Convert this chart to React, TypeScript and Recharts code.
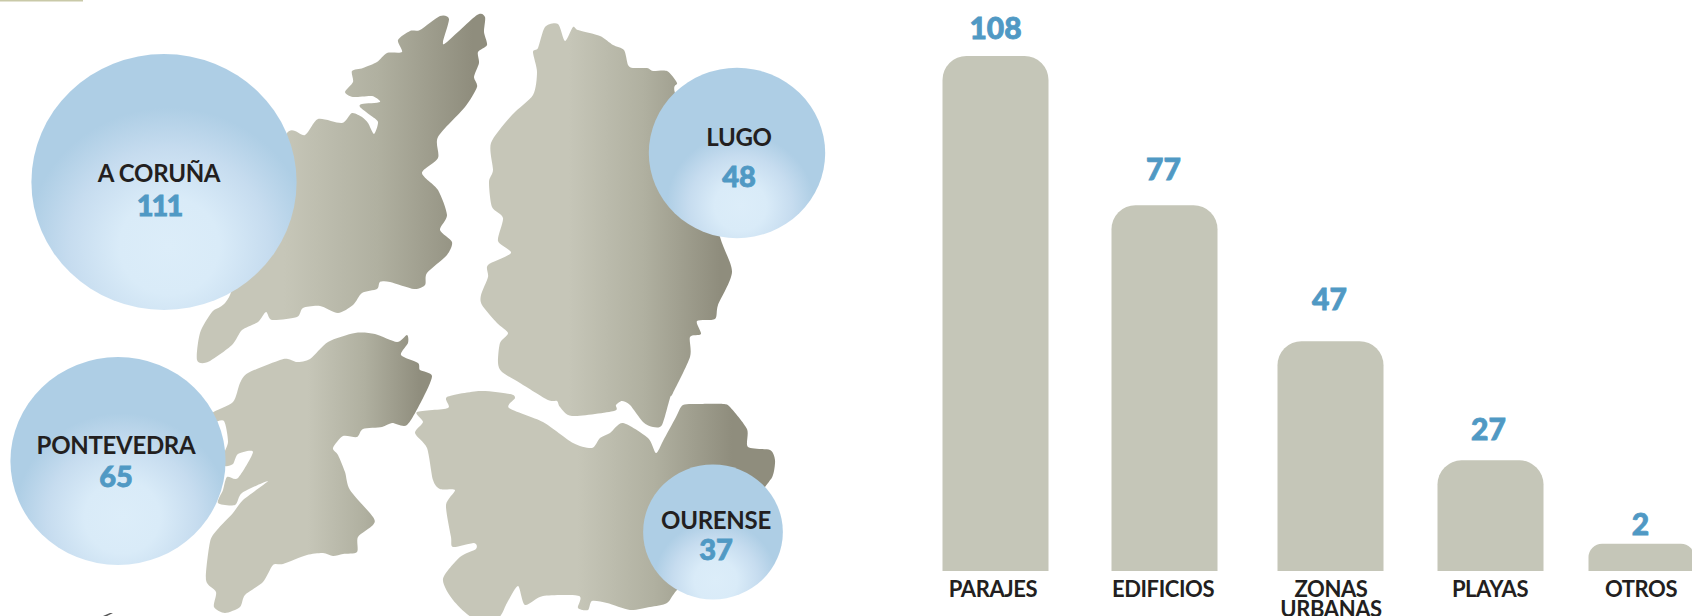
import {
  BarChart,
  Bar,
  XAxis,
  YAxis,
  ZAxis,
  ScatterChart,
  Scatter,
  Rectangle,
} from "recharts";

// provinces (bubbles)
const provinces = ["A CORUÑA", "PONTEVEDRA", "LUGO", "OURENSE"];
const provinceValues = [111, 65, 48, 37];
const provinceX = [164, 118, 737, 713];
const provinceY = [182, 461, 153, 532];

// sites (bars)
const siteLabels = ["PARAJES", "EDIFICIOS", "ZONAS\nURBANAS", "PLAYAS", "OTROS"];
const siteValues = [108, 77, 47, 27, 2];
// the printed bars are not to scale, this is the height they are drawn at
const siteDrawn = [108, 76.7, 48.2, 23.2, 5.7];
const siteSlots = [95, 264, 430, 590, 741];

const FONT = "Lato, sans-serif";
const INK = "#231f20";
const BLUE = "#5099c4";
const BAR = "#c5c6b8";

// layout bits
const bubbleFix = [1, 1.093, 1.072, 1];
const nameShift = [[-5, -10], [-2, -17], [2, -17], [3, -13]];
const valueShift = [[-5, 22], [-2, 14], [2, 22], [3, 16]];
const valueSpacing = [-2, 0, 0, 0];
const bubbleGlow = [
  { cy: 0.75, r: 0.54 },
  { cy: 0.77, r: 0.5 },
  { cy: 0.81, r: 0.42 },
  { cy: 0.86, r: 0.44 },
];
const labelGap = [29, 37, 43, 32, 21];
const labelNudge = [0, -1, -1, -2, -1];
const tickNudge = [-2, -1, 1, 0, 0];

const bubbleData = provinces.map((name, i) => ({
  name,
  x: provinceX[i],
  y: provinceY[i],
  z: provinceValues[i],
}));

const barData = siteLabels.map((label, i) => ({
  slot: siteSlots[i],
  label,
  value: siteValues[i],
  drawn: siteDrawn[i],
}));

// map outlines, traced by hand
const mapCoruna = [
  [287, 133], [305, 135], [318, 119], [342, 123], [352, 113], [362, 117], [368, 123], [374, 134],
  [378, 122], [370, 115], [360, 107], [362, 104], [380, 102], [372, 96], [353, 97], [345, 92],
  [353, 82], [352, 71], [363, 68], [377, 62], [387, 53], [402, 52], [398, 40], [410, 31],
  [420, 30], [440, 16], [449, 19], [443, 42], [447, 42], [477, 15], [485, 17], [484, 32],
  [487, 45], [478, 52], [479, 63], [474, 77], [477, 87], [465, 107], [438, 137], [438, 158],
  [422, 173], [438, 190], [447, 215], [440, 230], [452, 242], [447, 255], [427, 273], [425, 285],
  [414, 289], [390, 282], [380, 282], [377, 289], [362, 293], [353, 305], [338, 313], [320, 306],
  [303, 308], [297, 317], [272, 320], [266, 312], [258, 322], [242, 330], [232, 345], [208, 362],
  [197, 360], [200, 333], [212, 312], [230, 295], [262, 200],
];
const mapLugo = [
  [533, 52], [538, 48], [545, 27], [558, 24], [565, 41], [573, 27], [578, 30], [600, 36],
  [613, 45], [624, 50], [628, 65], [633, 68], [647, 68], [653, 71], [667, 71], [677, 83],
  [675, 93], [700, 160], [720, 237], [732, 272], [718, 305], [715, 319], [697, 321], [701, 334],
  [690, 337], [690, 357], [673, 393], [670, 398], [662, 425], [653, 427], [643, 422], [630, 405],
  [622, 401], [616, 405], [614, 411], [572, 416], [560, 407], [557, 401], [548, 400], [520, 383],
  [502, 372], [498, 363], [500, 343], [508, 333], [497, 323], [482, 305], [481, 295], [488, 277],
  [488, 265], [511, 253], [498, 241], [503, 218], [492, 207], [489, 182], [493, 170], [491, 143],
  [512, 115], [533, 95], [537, 72],
];
const mapPontevedra = [
  [212, 413], [233, 402], [240, 383], [248, 373], [280, 360], [288, 359], [297, 362], [310, 359],
  [328, 342], [355, 333], [375, 334], [397, 342], [407, 335], [408, 343], [401, 355], [418, 363],
  [420, 370], [432, 376], [422, 400], [407, 425], [392, 423], [382, 427], [363, 429], [357, 437],
  [343, 436], [333, 448], [338, 455], [345, 472], [350, 490], [373, 517], [373, 525], [358, 537],
  [357, 552], [343, 554], [333, 556], [323, 553], [307, 555], [283, 564], [273, 565], [263, 582],
  [245, 595], [240, 607], [225, 613], [214, 607], [216, 592], [206, 580], [210, 542], [217, 530],
  [233, 513], [243, 500], [268, 481], [242, 493], [235, 505], [218, 503], [223, 490], [227, 477],
  [238, 478], [253, 452], [238, 454], [233, 464], [225, 466], [223, 456], [228, 442], [224, 421],
  [213, 422],
];
const mapOurense = [
  [417, 412], [448, 408], [447, 397], [480, 391], [510, 394], [515, 398], [509, 408], [543, 422],
  [573, 443], [592, 448], [600, 438], [610, 433], [623, 423], [648, 438], [656, 453], [663, 441],
  [676, 417], [683, 405], [700, 404], [723, 404], [730, 407], [747, 429], [748, 447], [770, 450],
  [775, 460], [773, 475], [765, 487],
  [710, 557], [677, 590], [667, 603], [650, 607], [630, 610], [607, 603], [592, 601], [588, 610],
  [578, 608], [579, 596], [543, 596], [525, 605], [518, 586], [507, 603], [498, 618], [473, 618],
  [453, 600], [443, 579], [460, 557], [476, 549], [474, 543], [453, 547], [451, 537], [446, 505],
  [455, 490], [440, 489], [433, 480], [427, 448], [415, 433], [423, 422],
];

// closed catmull-rom so the coast isn't all straight segments
function smooth(pts: number[][]) {
  const n = pts.length;
  let d = `M${pts[0][0]},${pts[0][1]}`;
  for (let i = 0; i < n; i++) {
    const p0 = pts[(i - 1 + n) % n];
    const p1 = pts[i];
    const p2 = pts[(i + 1) % n];
    const p3 = pts[(i + 2) % n];
    const k = 8;
    d += ` C${p1[0] + (p2[0] - p0[0]) / k},${p1[1] + (p2[1] - p0[1]) / k} ${p2[0] - (p3[0] - p1[0]) / k},${p2[1] - (p3[1] - p1[1]) / k} ${p2[0]},${p2[1]}`;
  }
  return d + "Z";
}

function MapGradient({ id, from, to }: { id: string; from: number; to: number }) {
  return (
    <linearGradient id={id} x1="0" y1="0" x2="1" y2="0">
      <stop offset={from} stopColor="#c6c6b8" />
      <stop offset={(from + to) / 2} stopColor="#b0b0a0" />
      <stop offset={to} stopColor="#8f8d7d" />
    </linearGradient>
  );
}

function GaliciaMap() {
  return (
    <svg width={1692} height={616} style={{ position: "absolute", left: 0, top: 0 }}>
      <defs>
        <MapGradient id="mapCoruna" from={0.3} to={0.95} />
        <MapGradient id="mapLugo" from={0.35} to={0.95} />
        <MapGradient id="mapPontevedra" from={0.45} to={0.95} />
        <MapGradient id="mapOurense" from={0.45} to={0.88} />
      </defs>
      <rect x={0} y={0} width={83} height={1.5} fill="#c9c9a8" />
      <path d="M103,616 L110,613 L113,613 L107,616Z" fill="#555" />
      <path d={smooth(mapCoruna)} fill="url(#mapCoruna)" />
      <path d={smooth(mapLugo)} fill="url(#mapLugo)" />
      <path d={smooth(mapPontevedra)} fill="url(#mapPontevedra)" />
      <path d={smooth(mapOurense)} fill="url(#mapOurense)" />
    </svg>
  );
}

function Bubble(props: any) {
  const { cx, cy, width, index, payload } = props;
  const r = (width / 2) * bubbleFix[index];
  return (
    <g>
      <ellipse cx={cx} cy={cy} rx={r * 1.02} ry={r * 0.985} fill={`url(#bubble${index})`} />
      <text
        x={cx + nameShift[index][0]}
        y={cy + nameShift[index][1]}
        textAnchor="middle"
        dominantBaseline="central"
        fontFamily={FONT}
        fontWeight={700}
        fontSize={24}
        letterSpacing={-0.3}
        fill={INK}
      >
        {payload.name}
      </text>
      <text
        x={cx + valueShift[index][0]}
        y={cy + valueShift[index][1]}
        textAnchor="middle"
        dominantBaseline="central"
        fontFamily={FONT}
        fontWeight={900}
        fontSize={29}
        letterSpacing={valueSpacing[index]}
        stroke={BLUE}
        strokeWidth={0.8}
        fill={BLUE}
      >
        {payload.z}
      </text>
    </g>
  );
}

function BarShape(props: any) {
  const r = props.height < 40 ? 16 : 24;
  return <Rectangle {...props} radius={[r, r, 0, 0]} />;
}

function SiteLabel(props: any) {
  const { x, y, width, index } = props;
  return (
    <text
      x={x + width / 2 + labelNudge[index]}
      y={y - labelGap[index]}
      textAnchor="middle"
      dominantBaseline="central"
      fontFamily={FONT}
      fontWeight={900}
      fontSize={30}
      stroke={BLUE}
      strokeWidth={0.8}
      fill={BLUE}
    >
      {siteValues[index]}
    </text>
  );
}

function SiteTick(props: any) {
  const { x, payload } = props;
  const i = siteSlots.indexOf(payload.value);
  return (
    <text
      textAnchor="middle"
      fontFamily={FONT}
      fontWeight={700}
      fontSize={22}
      letterSpacing={-0.4}
      fill={INK}
    >
      {siteLabels[i].split("\n").map((line, n) => (
        <tspan key={line} x={x + tickNudge[i]} y={597 + n * 20}>
          {line}
        </tspan>
      ))}
    </text>
  );
}

export default function App() {
  return (
    <div
      style={{
        position: "absolute",
        left: 0,
        top: 0,
        width: 1692,
        height: 616,
        overflow: "hidden",
        background: "#fff",
      }}
    >
      <GaliciaMap />

      <div style={{ position: "absolute", left: 0, top: 0 }}>
        <ScatterChart width={900} height={616} margin={{ top: 0, right: 0, bottom: 0, left: 0 }}>
          <defs>
            {bubbleGlow.map((g, i) => (
              <radialGradient key={i} id={`bubble${i}`} cx={0.52} cy={g.cy} r={g.r}>
                <stop offset={0} stopColor="#dcedf9" />
                <stop offset={0.35} stopColor="#d9ebf8" />
                <stop offset={0.7} stopColor="#c6dcef" />
                <stop offset={1} stopColor="#aecee5" />
              </radialGradient>
            ))}
          </defs>
          <XAxis type="number" dataKey="x" domain={[0, 900]} hide />
          <YAxis type="number" dataKey="y" domain={[0, 616]} reversed hide />
          <ZAxis type="number" dataKey="z" domain={[37, 111]} range={[14741, 53093]} />
          <Scatter data={bubbleData} shape={Bubble} isAnimationActive={false} />
        </ScatterChart>
      </div>

      <div style={{ position: "absolute", left: 900, top: 0 }}>
        <BarChart
          width={792}
          height={616}
          data={barData}
          margin={{ top: 56, right: 0, bottom: 0, left: 0 }}
        >
          <XAxis
            type="number"
            dataKey="slot"
            domain={[0, 792]}
            ticks={siteSlots}
            interval={0}
            height={45}
            axisLine={false}
            tickLine={false}
            tick={SiteTick}
          />
          <YAxis type="number" domain={[0, 108]} hide />
          <Bar
            dataKey="drawn"
            barSize={106}
            fill={BAR}
            shape={BarShape}
            label={SiteLabel}
            isAnimationActive={false}
          />
        </BarChart>
      </div>
    </div>
  );
}
